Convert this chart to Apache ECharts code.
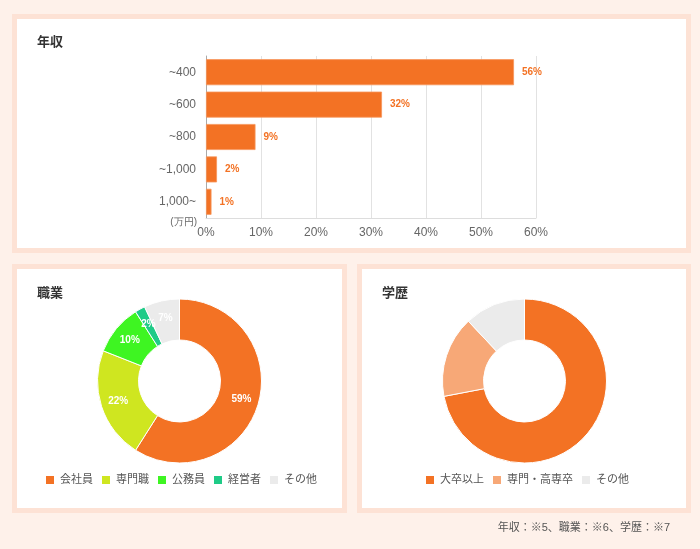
<!DOCTYPE html>
<html>
<head>
<meta charset="utf-8">
<script src="https://cdn.jsdelivr.net/npm/echarts@6/dist/echarts.min.js"></script>
<style>
html,body{margin:0;padding:0;background:#fef1ea;}
#c{width:700px;height:549px;}
</style>
</head>
<body>
<div id="c"></div>
<script>
// ---- data ----
const incomeCategories = ['~400', '~600', '~800', '~1,000', '1,000~'];
const incomeValues = [56, 32, 9, 2, 1];
const incomeTicks = [0, 10, 20, 30, 40, 50, 60];
const jobNames = ['会社員', '専門職', '公務員', '経営者', 'その他'];
const jobValues = [59, 22, 10, 2, 7];
const eduNames = ['大卒以上', '専門・高専卒', 'その他'];
const eduValues = [72, 16, 12];
const titles = ['年収', '職業', '学歴'];
const unitLabel = '(万円)';
const footnote = '年収：※5、職業：※6、学歴：※7';

const FONT = '"Liberation Sans", "Noto Sans CJK JP", sans-serif';
const ORANGE = '#f37224';
const jobColors = ['#f37224', '#cfe620', '#3ef522', '#1fcb87', '#ebebeb'];
const eduColors = ['#f37224', '#f7a877', '#ebebeb'];

const chart = echarts.init(document.getElementById('c'), null, {renderer: 'canvas'});

function panel(x, y, w, h) {
  return {
    type: 'rect', z: -100, silent: true,
    shape: {x: x, y: y, width: w, height: h},
    style: {fill: '#ffffff', stroke: '#fde2d5', lineWidth: 5}
  };
}

const option = {
  backgroundColor: '#fef1ea',
  textStyle: {fontFamily: FONT},
  animation: false,
  title: [
    {text: titles[0], left: 37, top: 36, padding: 0, textStyle: {fontSize: 13, fontWeight: 'bold', color: '#333', fontFamily: FONT}},
    {text: titles[1], left: 37, top: 287, padding: 0, textStyle: {fontSize: 13, fontWeight: 'bold', color: '#333', fontFamily: FONT}},
    {text: titles[2], left: 382, top: 287, padding: 0, textStyle: {fontSize: 13, fontWeight: 'bold', color: '#333', fontFamily: FONT}}
  ],
  graphic: [
    panel(14.5, 16.5, 674, 234),
    panel(14.5, 266.5, 330, 244),
    panel(359.5, 266.5, 329, 244),
    {type: 'text', z: 10, silent: true, style: {text: unitLabel, x: 197, y: 222, align: 'right', verticalAlign: 'middle', fontSize: 10, fill: '#666', font: '10px ' + FONT}},
    {type: 'text', z: 10, silent: true, style: {text: footnote, x: 670, y: 528, align: 'right', verticalAlign: 'middle', fill: '#555', font: '11px ' + FONT}}
  ],
  legend: [
    {
      data: jobNames, left: 44, top: 474, padding: 0, itemWidth: 10, itemHeight: 10, itemGap: 7,
      icon: 'rect', textStyle: {fontSize: 11, color: '#555', fontFamily: FONT}
    },
    {
      data: eduNames, left: 424, top: 474, padding: 0, itemWidth: 10, itemHeight: 10, itemGap: 7,
      icon: 'rect', textStyle: {fontSize: 11, color: '#555', fontFamily: FONT}
    }
  ],
  grid: {left: 206, top: 56, width: 330, height: 162, containLabel: false},
  xAxis: {
    type: 'value', min: incomeTicks[0], max: incomeTicks[incomeTicks.length - 1], interval: 10,
    axisLine: {show: true, lineStyle: {color: '#ddd'}},
    axisTick: {show: false},
    splitLine: {lineStyle: {color: '#e2e2e2'}},
    axisLabel: {formatter: '{value}%', color: '#666', fontSize: 12, margin: 9, fontFamily: FONT}
  },
  yAxis: {
    type: 'category', data: incomeCategories, inverse: true,
    axisLine: {show: true, lineStyle: {color: '#aaa'}},
    axisTick: {show: false},
    axisLabel: {color: '#666', fontSize: 12, margin: 10, fontFamily: FONT}
  },
  series: [
    {
      type: 'bar', data: incomeValues, barWidth: 26,
      itemStyle: {color: ORANGE, borderColor: '#f6955a', borderWidth: 0.8},
      label: {show: true, position: 'right', distance: 8, formatter: '{c}%', color: ORANGE, fontSize: 10, fontWeight: 'bold', fontFamily: FONT}
    },
    {
      type: 'pie', name: '職業', center: [179.5, 381], radius: [41, 82], startAngle: 90, clockwise: true,
      data: jobNames.map((n, i) => ({name: n, value: jobValues[i], itemStyle: {color: jobColors[i]}})),
      itemStyle: {borderColor: '#fff', borderWidth: 1},
      label: {show: true, position: 'inside', formatter: '{c}%', color: '#fff', fontSize: 10, fontWeight: 'bold', fontFamily: FONT},
      labelLine: {show: false},
      emphasis: {disabled: true}
    },
    {
      type: 'pie', name: '学歴', center: [524.5, 381], radius: [41, 82], startAngle: 90, clockwise: true,
      data: eduNames.map((n, i) => ({name: n, value: eduValues[i], itemStyle: {color: eduColors[i]}})),
      itemStyle: {borderColor: '#fff', borderWidth: 1},
      label: {show: false},
      labelLine: {show: false},
      emphasis: {disabled: true}
    }
  ]
};
chart.setOption(option);
</script>
</body>
</html>
